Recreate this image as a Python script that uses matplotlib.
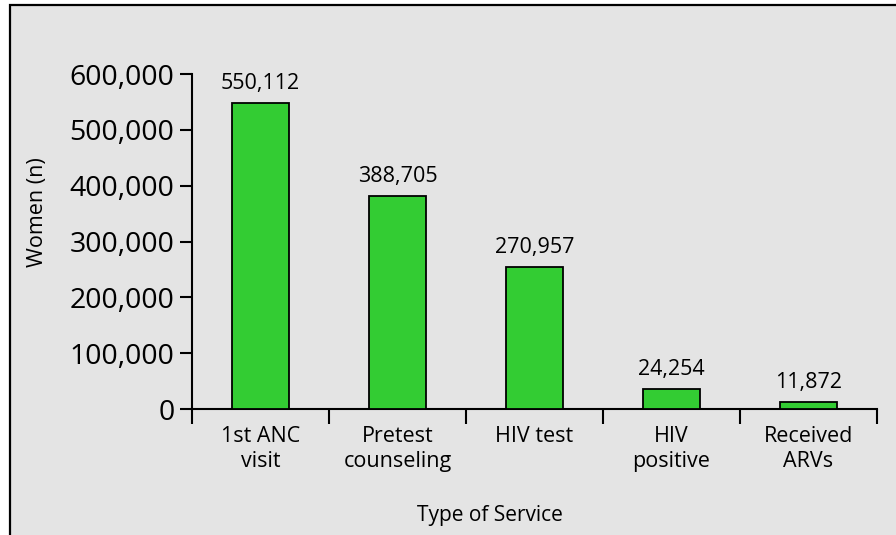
import matplotlib.pyplot as plt
from matplotlib.patches import Rectangle
from matplotlib.ticker import FuncFormatter

# data
categories = ["1st ANC\nvisit", "Pretest\ncounseling", "HIV test", "HIV\npositive", "Received\nARVs"]
bar_heights = [548600, 381500, 254300, 35300, 13100]
value_labels = ["550,112", "388,705", "270,957", "24,254", "11,872"]
y_ticks = [0, 100000, 200000, 300000, 400000, 500000, 600000]

BG = "#e4e4e4"
GREEN = "#33cc33"
W, H = 896, 535

plt.rcParams["font.family"] = ["Open Sans", "DejaVu Sans"]

fig = plt.figure(figsize=(W / 100, H / 100), dpi=100, facecolor="white")

# frame of the panel (cropped at right and bottom)
frame = Rectangle((10 / W, -0.1), 1.2, (H - 5) / H + 0.1, transform=fig.transFigure,
                  facecolor=BG, edgecolor="black", lw=1.6, zorder=-5)
fig.patches.append(frame)

ax = fig.add_axes([192 / W, (H - 409) / H, (877 - 192) / W, 335 / H])
ax.set_facecolor("none")

x = list(range(len(categories)))
ax.bar(x, bar_heights, width=0.42, color=GREEN, edgecolor="black", lw=1.3, zorder=3)

for xi, h, lab in zip(x, bar_heights, value_labels):
    ax.annotate(lab, (xi, h), xytext=(0, 10), textcoords="offset points",
                ha="center", va="baseline", fontsize=15.5)

ax.set_xlim(-0.5, len(categories) - 0.5)
ax.set_ylim(0, 600000)

ax.set_yticks(y_ticks)
ax.yaxis.set_major_formatter(FuncFormatter(lambda v, p: f"{int(v):,}"))
ax.tick_params(axis="y", length=8.6, width=1.5, pad=4, labelsize=20.5)

# ticks at category boundaries, labels at centers
ax.set_xticks([i - 0.5 for i in range(len(categories) + 1)])
ax.set_xticklabels([])
ax.set_xticks(x, minor=True)
ax.set_xticklabels(categories, minor=True, fontsize=15.5, linespacing=1.3)
ax.tick_params(axis="x", which="major", length=10.5, width=1.5)
ax.tick_params(axis="x", which="minor", length=0, pad=12)

for s in ["top", "right"]:
    ax.spines[s].set_visible(False)
for s in ["left", "bottom"]:
    ax.spines[s].set_linewidth(1.5)

fig.text(38 / W, 1 - 212 / H, "Women (n)", rotation=90, ha="center", va="center", fontsize=15.5)
fig.text(490 / W, 1 - 515 / H, "Type of Service", ha="center", va="center", fontsize=15)

fig.savefig("out.png", dpi=100, facecolor="white")
